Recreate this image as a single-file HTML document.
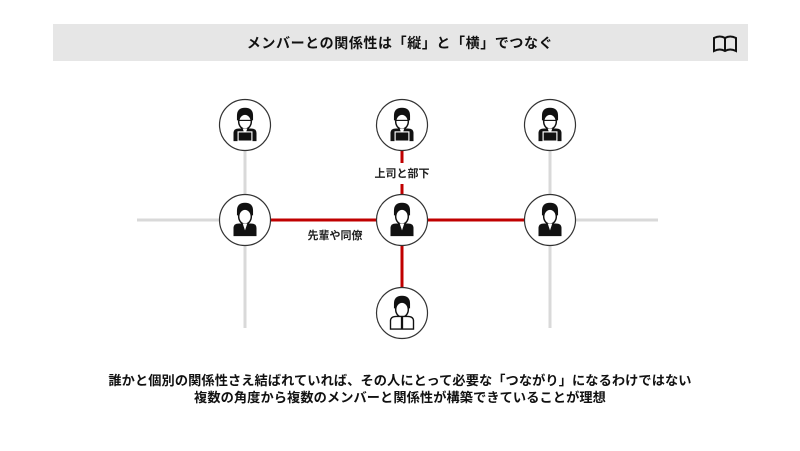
<!DOCTYPE html>
<html><head><meta charset="utf-8"><style>
body{margin:0;width:800px;height:451px;background:#fff;overflow:hidden;font-family:"Liberation Sans","Noto Sans CJK JP",sans-serif;}
svg{position:absolute;left:0;top:0}
</style></head><body>
<svg width="800" height="451" viewBox="0 0 800 451" xmlns="http://www.w3.org/2000/svg" font-family="Liberation Sans, Noto Sans CJK JP, sans-serif">
<defs>
<g id="p">
  <g transform="scale(1.15)">
  <path d="M-7,-8 Q-7,-15 0,-15 Q7,-15 7,-8 L7,-4 L-7,-4Z" fill="#111"/>
  <ellipse cx="0" cy="-3" rx="5.5" ry="6.5" fill="#fff" stroke="#111" stroke-width="1.3"/>
  <path d="M-10,14 L-10,7 Q-10,3 -5,3 L5,3 Q10,3 10,7 L10,14Z" fill="#111"/>
  <path d="M-2,3 L0,9 L2,3Z" fill="#fff"/>
  </g>
</g>
<g id="pc">
  <use href="#p"/>
  <g transform="scale(1.15)">
  <rect x="-6" y="6" width="12" height="8" fill="#111" stroke="#fff" stroke-width="1"/>
  <line x1="-5" y1="-4" x2="5" y2="-4" stroke="#111" stroke-width="1"/>
  </g>
</g>
<circle id="c" r="25.5" fill="#fff" stroke="#333" stroke-width="1.2"/>
</defs>
<rect x="53" y="24" width="695" height="37" fill="#e6e6e6"/>
<text x="400" y="48" text-anchor="middle" font-size="14" font-weight="bold" fill="#111" letter-spacing="0.6">メンバーとの関係性は「縦」と「横」でつなぐ</text>
<path d="M714,38 L714,51 Q720,48 725,51 Q730,48 736,51 L736,38 Q730,35 725,38 Q720,35 714,38Z M725,38 L725,51" fill="none" stroke="#111" stroke-width="2"/>
<g stroke="#d9d9d9" stroke-width="3">
<line x1="137" y1="220" x2="658" y2="220"/>
<line x1="245" y1="151" x2="245" y2="328"/>
<line x1="550" y1="151" x2="550" y2="328"/>
</g>
<g stroke="#c00000" stroke-width="3">
<line x1="271" y1="220" x2="376" y2="220"/>
<line x1="428" y1="220" x2="524" y2="220"/>
<line x1="402" y1="151" x2="402" y2="163"/>
<line x1="402" y1="184" x2="402" y2="195"/>
<line x1="402" y1="246" x2="402" y2="288"/>
</g>
<text x="402" y="177" text-anchor="middle" font-size="11" font-weight="bold" fill="#222">上司と部下</text>
<text x="335" y="239" text-anchor="middle" font-size="11" font-weight="bold" fill="#222">先輩や同僚</text>
<use href="#c" x="245" y="125"/><use href="#pc" x="245" y="125"/>
<use href="#c" x="402" y="125"/><use href="#pc" x="402" y="125"/>
<use href="#c" x="550" y="125"/><use href="#pc" x="550" y="125"/>
<use href="#c" x="245" y="220"/><use href="#p" x="245" y="220"/>
<use href="#c" x="402" y="220"/><use href="#p" x="402" y="220"/>
<use href="#c" x="550" y="220"/><use href="#p" x="550" y="220"/>
<g transform="translate(402,313)">
  <circle r="25.5" fill="#fff" stroke="#333" stroke-width="1.2"/>
  <g transform="scale(1.15)">
  <path d="M-7,-8 Q-7,-15 0,-15 Q7,-15 7,-8 L7,-4 L-7,-4Z" fill="#111"/>
  <ellipse cx="0" cy="-3" rx="5.5" ry="6.5" fill="#fff" stroke="#111" stroke-width="1.3"/>
  <path d="M-10,14 L-10,7 Q-10,3 -5,3 L5,3 Q10,3 10,7 L10,14Z" fill="#fff" stroke="#111" stroke-width="1.2"/>
  <line x1="0" y1="3" x2="0" y2="14" stroke="#111" stroke-width="2"/>
  </g>
</g>
<text x="400" y="385" text-anchor="middle" font-size="13.2" font-weight="bold" fill="#111" letter-spacing="0.1">誰かと個別の関係性さえ結ばれていれば、その人にとって必要な「つながり」になるわけではない</text>
<text x="400" y="402" text-anchor="middle" font-size="13.2" font-weight="bold" fill="#111" letter-spacing="0.1">複数の角度から複数のメンバーと関係性が構築できていることが理想</text>
</svg>
</body></html>
